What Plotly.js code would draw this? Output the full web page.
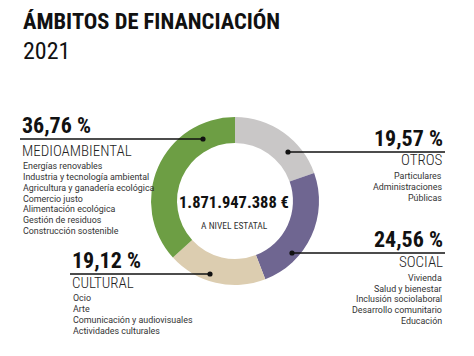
<!DOCTYPE html>
<html>
<head>
<meta charset="utf-8">
<script src="https://cdn.plot.ly/plotly-3.0.1.min.js"></script>
<style>html,body{margin:0;padding:0;background:#fff;}#chart{width:474px;height:356px;}</style>
</head>
<body>
<div id="chart"></div>
<script>
// ---- Data ----
const categories = ["OTROS", "SOCIAL", "CULTURAL", "MEDIOAMBIENTAL"];
const values = [19.57, 24.56, 19.12, 36.76];
const valueLabels = ["19,57 %", "24,56 %", "19,12 %", "36,76 %"];
const colors = ["#c9c7c7", "#6f6691", "#dccdb0", "#6d9e44"];
const itemsOtros = ["Particulares", "Administraciones", "Públicas"];
const itemsSocial = ["Vivienda", "Salud y bienestar", "Inclusión sociolaboral", "Desarrollo comunitario", "Educación"];
const itemsCultural = ["Ocio", "Arte", "Comunicación y audiovisuales", "Actividades culturales"];
const itemsMedio = ["Energías renovables", "Industria y tecnología ambiental", "Agricultura y ganadería ecológica", "Comercio justo", "Alimentación ecológica", "Gestión de residuos", "Construcción sostenible"];
const titleText = "ÁMBITOS DE FINANCIACIÓN";
const yearText = "2021";
const totalText = "1.871.947.388 €";
const totalSub = "A NIVEL ESTATAL";

// ---- Layout helpers ----
const W = 474, H = 356;
const NARROW = "Roboto Condensed, DejaVu Sans Condensed, sans-serif";
const SMALL = "Roboto, DejaVu Sans, sans-serif";
const px = x => x / W;
const py = y => 1 - y / H;
const annotations = [];
const shapes = [];
function txt(text, x, baseline, size, anchor, opts) {
  opts = opts || {};
  annotations.push({
    text: text, xref: "paper", yref: "paper",
    x: px(x), y: py(baseline - 0.35 * size),
    xanchor: anchor, yanchor: "middle", showarrow: false,
    borderpad: 0,
    font: {family: opts.family || NARROW, size: size, color: opts.color || "#1a1a1a", weight: opts.weight || "normal"}
  });
}
function list(items, x, firstBaseline, step, anchor) {
  items.forEach((t, i) => txt(t, x, firstBaseline + i * step, 8.9, anchor, {color: "#333", family: SMALL}));
}
function callout(xa, xb, y, dotX) {
  shapes.push({type: "line", xref: "paper", yref: "paper", x0: px(xa), x1: px(xb), y0: py(y), y1: py(y),
    line: {color: "#111", width: 1.6}});
  shapes.push({type: "circle", xref: "paper", yref: "paper",
    x0: px(dotX - 2.6), x1: px(dotX + 2.6), y0: py(y - 2.6), y1: py(y + 2.6),
    fillcolor: "#111", line: {width: 0}});
}

// Title
txt(titleText, 22, 29, 22.5, "left", {weight: "bold", color: "#111"});
txt(yearText, 22, 59, 24, "left", {color: "#111"});

// Center
txt(totalText, 234, 208, 16.5, "center", {weight: "bold", color: "#111"});
txt(totalSub, 234, 229, 9.5, "center", {color: "#333"});

// MEDIOAMBIENTAL (left top)
txt(valueLabels[3], 21, 133, 22, "left", {weight: "bold", color: "#111"});
callout(20, 203, 139, 203);
txt(categories[3], 21, 156, 15, "left", {color: "#222", weight: 300});
list(itemsMedio, 22, 169, 10.9, "left");

// CULTURAL (left bottom)
txt(valueLabels[2], 71, 268, 22, "left", {weight: "bold", color: "#111"});
callout(70, 210, 274, 210);
txt(categories[2], 71, 288, 15, "left", {color: "#222", weight: 300});
list(itemsCultural, 72, 301, 10.9, "left");

// OTROS (right top)
txt(valueLabels[0], 444, 146, 22, "right", {weight: "bold", color: "#111"});
callout(288, 445, 152, 288);
txt(categories[0], 444, 165, 15, "right", {color: "#222", weight: 300});
list(itemsOtros, 443, 179, 11, "right");

// SOCIAL (right bottom)
txt(valueLabels[1], 444, 247, 22, "right", {weight: "bold", color: "#111"});
callout(292, 445, 253, 292);
txt(categories[1], 444, 267, 15, "right", {color: "#222", weight: 300});
list(itemsSocial, 443, 281, 10.8, "right");

// Donut geometry (center 235,201 ; outer radius 84)
const cx = 235, cy = 201, R = 84;
const data = [{
  type: "pie",
  labels: categories,
  values: values,
  sort: false,
  direction: "clockwise",
  rotation: 0,
  hole: 0.69,
  marker: {colors: colors, line: {width: 0}},
  textinfo: "none",
  hoverinfo: "none",
  showlegend: false,
  domain: {x: [px(cx - R), px(cx + R)], y: [py(cy + R), py(cy - R)]}
}];

const layout = {
  width: W, height: H,
  margin: {l: 0, r: 0, t: 0, b: 0},
  paper_bgcolor: "#ffffff",
  plot_bgcolor: "#ffffff",
  showlegend: false,
  annotations: annotations,
  shapes: shapes
};
Plotly.newPlot("chart", data, layout, {displayModeBar: false, staticPlot: true});
</script>
</body>
</html>
